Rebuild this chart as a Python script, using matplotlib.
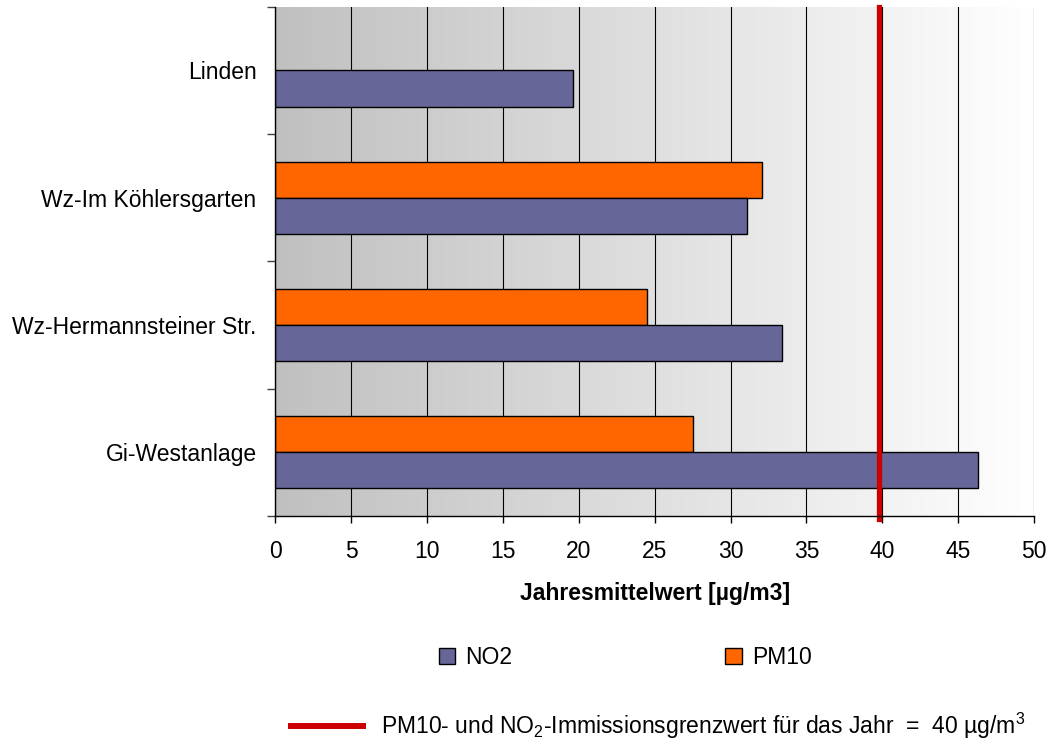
import matplotlib

matplotlib.use("Agg")
import matplotlib.pyplot as plt
import numpy as np
from matplotlib.colors import LinearSegmentedColormap
from matplotlib.lines import Line2D
from matplotlib.patches import Patch

plt.rcParams["font.family"] = ["Liberation Sans", "DejaVu Sans"]
plt.rcParams["mathtext.fontset"] = "custom"
plt.rcParams["mathtext.rm"] = "Liberation Sans"

# Jahresmittelwerte in µg/m3
stations = ["Linden", "Wz-Im Köhlersgarten", "Wz-Hermannsteiner Str.", "Gi-Westanlage"]
no2 = [19.6, 31.1, 33.4, 46.3]
pm10 = [np.nan, 32.1, 24.5, 27.5]  # no PM10 measurement in Linden
limit_line = 39.8  # red limit line as drawn (40 µg/m3)
x_ticks = np.arange(0, 51, 5)

NO2_COLOR = "#666699"
PM10_COLOR = "#FF6600"
LIMIT_COLOR = "#CC0000"
FS = 16.5

fig = plt.figure(figsize=(10.56, 7.44), dpi=100)
ax = fig.add_axes([0.2607, 0.3065, 0.7185, 0.6845])

y = np.arange(len(stations))
h = 0.284

# grey-to-white gradient behind the plot area
cmap = LinearSegmentedColormap.from_list("bg", ["#C0C0C0", "#FFFFFF"])
ax.imshow(np.linspace(0, 1, 256).reshape(1, -1), cmap=cmap, aspect="auto",
          extent=[0, 50, len(stations) - 0.5, -0.5], zorder=0)

ax.barh(y - h / 2, pm10, height=h, color=PM10_COLOR, edgecolor="black", linewidth=1, zorder=3)
ax.barh(y + h / 2, no2, height=h, color=NO2_COLOR, edgecolor="black", linewidth=1, zorder=3)
ax.axvline(limit_line, ymin=-0.006, ymax=1, color=LIMIT_COLOR, linewidth=3.8, zorder=4,
           clip_on=False)

ax.set_xlim(0, 50)
ax.set_ylim(len(stations) - 0.5, -0.5)
ax.set_xticks(x_ticks)
ax.set_xticklabels([str(v) for v in x_ticks], fontsize=FS)
ax.xaxis.grid(True, color="black", linewidth=0.8)
ax.set_axisbelow(False)
for line in ax.get_xgridlines():
    line.set_zorder(1)

# ticks at the category borders, labels centred in between
ax.set_yticks(np.arange(len(stations) + 1) - 0.5)
ax.set_yticklabels([])
ax.set_yticks(y, minor=True)
ax.set_yticklabels(stations, minor=True, fontsize=FS)
ax.tick_params(axis="y", which="major", direction="out", length=6, width=1, color="#404040")
ax.tick_params(axis="y", which="minor", length=0, pad=13.5)
ax.tick_params(axis="x", direction="out", length=5, width=1, pad=12)

for side in ("top", "right"):
    ax.spines[side].set_visible(False)
for side in ("left", "bottom"):
    ax.spines[side].set_linewidth(1)
    ax.spines[side].set_zorder(5)

ax.set_xlabel("Jahresmittelwert [µg/m3]", fontsize=FS, fontweight="bold", labelpad=14)

# legend for the bars
bar_handles = [Patch(facecolor=NO2_COLOR, edgecolor="black"),
               Patch(facecolor=PM10_COLOR, edgecolor="black")]
fig.legend(bar_handles, ["NO2", "PM10"], loc="center left", bbox_to_anchor=(0.4157, 0.116),
           ncol=2, frameon=False, fontsize=FS, handlelength=0.7, handleheight=0.7,
           handletextpad=0.45, columnspacing=9.3, borderpad=0, borderaxespad=0)

# legend for the limit line
line_handle = [Line2D([0], [0], color=LIMIT_COLOR, linewidth=4.3)]
fig.legend(line_handle,
           ["PM10- und NO$_2$-Immissionsgrenzwert für das Jahr  =  40 µg/m$^3$"],
           loc="center left", bbox_to_anchor=(0.2756, 0.024), frameon=False, fontsize=FS,
           handlelength=3.15, handletextpad=0.79, borderpad=0, borderaxespad=0)

fig.savefig("out.png", dpi=100)
